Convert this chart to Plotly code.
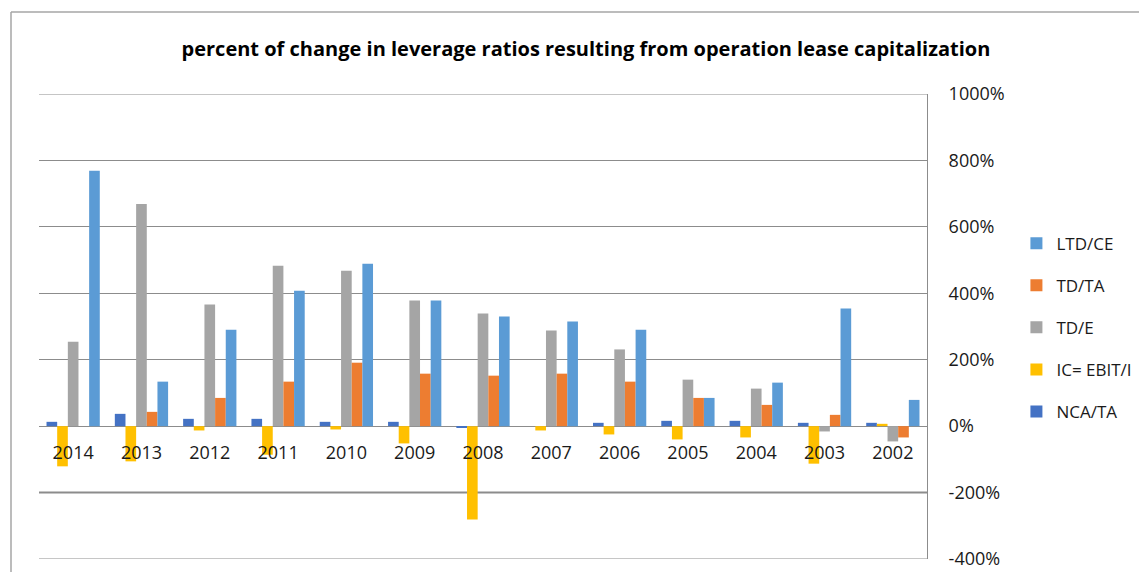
import plotly.graph_objects as go

years = ["2014", "2013", "2012", "2011", "2010", "2009", "2008", "2007", "2006", "2005", "2004", "2003", "2002"]

nca_ta = [13, 37, 22, 22, 13, 13, -4, 0, 10, 16, 16, 10, 10]
ic_ebit_i = [-121, -106, -13, -86, -10, -52, -281, -13, -25, -40, -34, -113, 7]
td_e = [254, 669, 366, 483, 468, 378, 339, 288, 231, 140, 113, -16, -46]
td_ta = [0, 43, 85, 134, 191, 158, 152, 158, 134, 85, 64, 34, -34]
ltd_ce = [769, 134, 290, 408, 489, 378, 330, 315, 290, 85, 131, 354, 79]

series = [
    ("NCA/TA", nca_ta, "#4472C4"),
    ("IC= EBIT/I", ic_ebit_i, "#FFC000"),
    ("TD/E", td_e, "#A5A5A5"),
    ("TD/TA", td_ta, "#ED7D31"),
    ("LTD/CE", ltd_ce, "#5B9BD5"),
]

y_min, y_max = -400, 1000
y_ticks = list(range(y_min, y_max + 1, 200))
y_tick_text = [f"{t}%" for t in y_ticks]

fig = go.Figure()
n = len(series)
for i, (name, vals, color) in enumerate(series):
    fig.add_trace(go.Bar(
        x=years, y=vals, name=name, marker_color=color,
        marker_line_width=0, legendgroup=name, legendrank=n - i,
    ))

fig.update_layout(
    width=1131, height=564,
    margin=dict(l=31, r=212, t=86, b=13, autoexpand=False),
    paper_bgcolor="white", plot_bgcolor="white",
    barmode="group", bargap=0.22, bargroupgap=0,
    font=dict(family="Open Sans", color="#1a1a1a", size=18),
    title=dict(
        text="<b>percent of change in leverage ratios resulting from operation lease capitalization</b>",
        x=0.511, xanchor="center", y=0.928, yanchor="middle",
        font=dict(family="Open Sans", size=20, color="#000000"),
    ),
    legend=dict(
        x=1.1007, xanchor="left", y=0.717, yanchor="top",
        traceorder="grouped", tracegroupgap=17,
        font=dict(size=17, color="#1a1a1a"), itemwidth=30,
        bgcolor="rgba(0,0,0,0)",
    ),
    showlegend=True,
)

fig.update_xaxes(
    type="category", anchor="free", position=(0 - y_min) / (y_max - y_min),
    showline=False, showgrid=False, ticks="", ticklabelstandoff=14,
    tickfont=dict(size=18, color="#1a1a1a"), automargin=False,
)
fig.update_yaxes(
    range=[y_min, y_max], side="right", tickvals=y_ticks, ticktext=y_tick_text,
    showgrid=True, gridcolor="#8C8C8C", gridwidth=1,
    zeroline=True, zerolinecolor="#8C8C8C", zerolinewidth=1,
    showline=True, linecolor="#8C8C8C", linewidth=1,
    ticks="", ticklabelstandoff=17,
    tickfont=dict(size=18, color="#1a1a1a"), automargin=False,
)

# gridlines at the range ends (plotly omits those at the edges)
for yv in (y_min, y_max):
    fig.add_shape(type="line", xref="paper", yref="y", x0=0, x1=1, y0=yv, y1=yv,
                  line=dict(color="#8C8C8C", width=1), layer="below")
# thicker horizontal line at -200%
fig.add_shape(type="line", xref="paper", yref="y", x0=0, x1=1, y0=-200, y1=-200,
              line=dict(color="#8C8C8C", width=2), layer="below")
# chart area border (left and top edges visible in the crop)
bx0 = (11 - 39) / 888
by1 = 1 + (94 - 12) / 465
fig.add_shape(type="line", xref="paper", yref="paper", x0=bx0, x1=bx0, y0=-0.1, y1=by1,
              line=dict(color="#A6A6A6", width=1.5), layer="below")
fig.add_shape(type="line", xref="paper", yref="paper", x0=bx0, x1=1.26, y0=by1, y1=by1,
              line=dict(color="#A6A6A6", width=1.5), layer="below")

fig.write_html("out.html")
